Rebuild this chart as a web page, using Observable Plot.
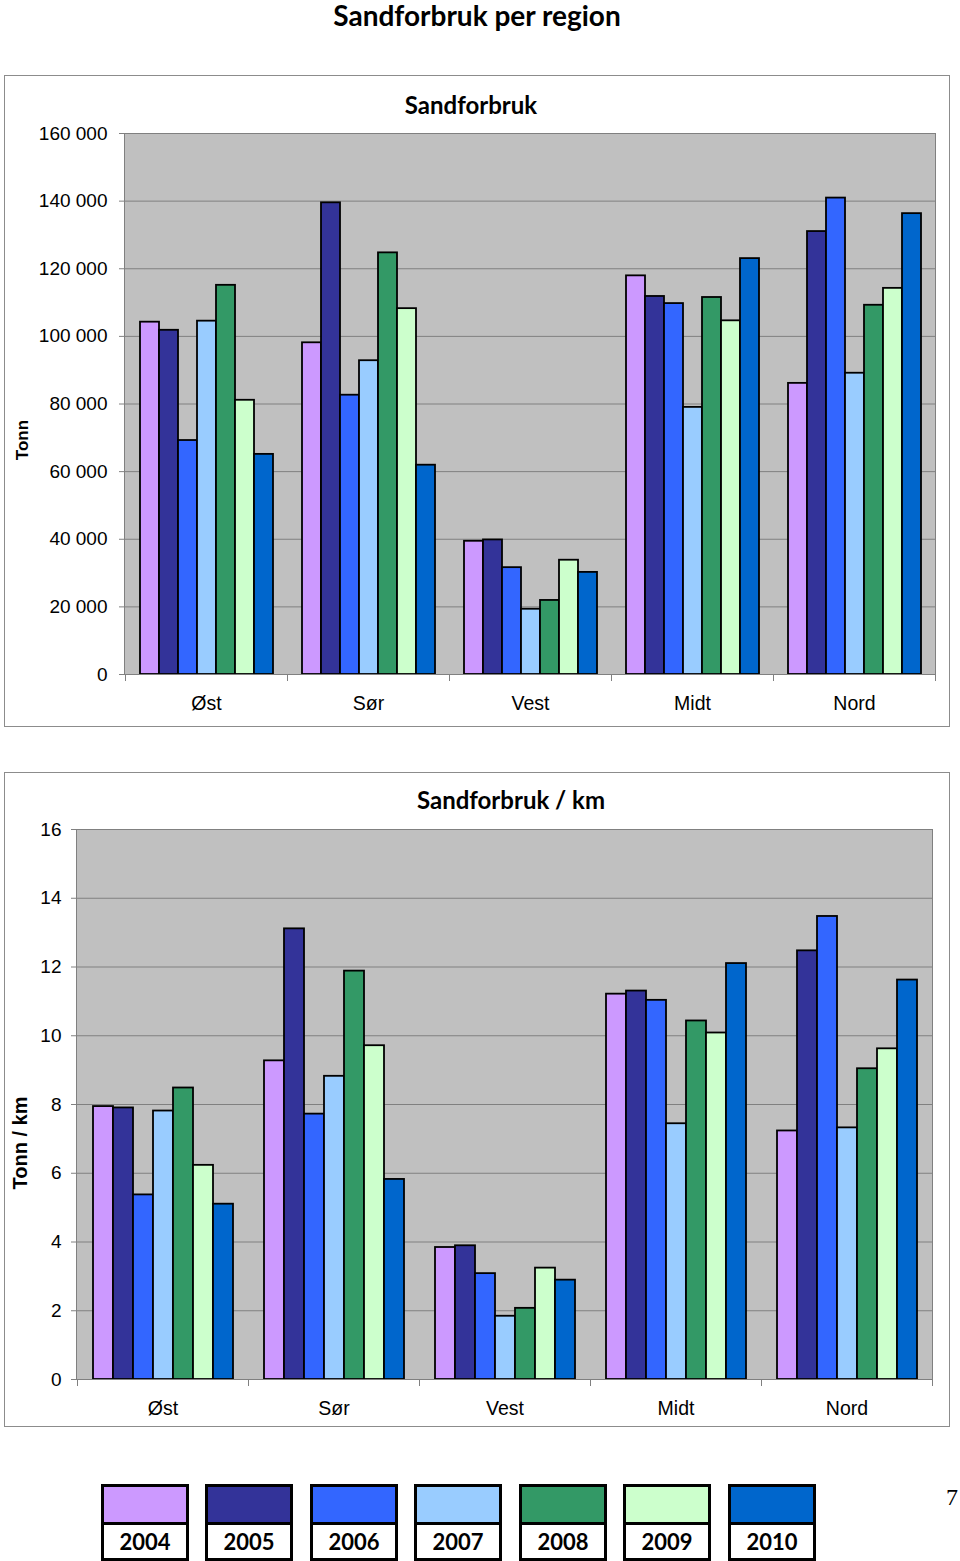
<!DOCTYPE html>
<html><head><meta charset="utf-8">
<script src="https://cdn.jsdelivr.net/npm/d3@7"></script>
<script src="https://cdn.jsdelivr.net/npm/@observablehq/plot@0.6"></script>
<style>
html,body{margin:0;padding:0;background:#fff;}
body{width:960px;height:1561px;position:relative;overflow:hidden;font-family:"Liberation Sans",Arial,sans-serif;}
.abs{position:absolute;}
.panel{position:absolute;border:1px solid #8c8c8c;box-sizing:border-box;background:#fff;}
.plotbg{position:absolute;background:#c0c0c0;border:1px solid #808080;box-sizing:border-box;}
.ttl{position:absolute;font-family:Lato,"Open Sans",sans-serif;font-weight:bold;white-space:nowrap;transform:translate(-50%,-50%);line-height:1;}
.ylab{position:absolute;font-family:"Liberation Sans",Arial,sans-serif;font-weight:bold;white-space:nowrap;transform:translate(-50%,-50%) rotate(-90deg);line-height:1;}
.chart{position:absolute;}
.lg{position:absolute;top:1484px;width:88px;height:77px;border:3px solid #000;box-sizing:border-box;background:#fff;}
.lg .sw{height:35px;border-bottom:3px solid #000;}
.lg .tx{text-align:center;font-family:Lato,"Open Sans",sans-serif;font-weight:bold;font-size:22px;line-height:33px;color:#000;}
</style>
</head><body>
<script>
// ---------- data ----------
const regions = ["Øst", "Sør", "Vest", "Midt", "Nord"];
const years = ["2004", "2005", "2006", "2007", "2008", "2009", "2010"];
const yearColors = ["#CC99FF", "#333399", "#3366FF", "#99CCFF", "#339966", "#CCFFCC", "#0066CC"];

// Sandforbruk (tonn), one value per year 2004–2010
const tonnOst  = [104200, 101800, 69200, 104500, 115100, 81100, 65100];
const tonnSor  = [98100, 139500, 82600, 92800, 124700, 108200, 61900];
const tonnVest = [39400, 39800, 31600, 19300, 21900, 33800, 30200];
const tonnMidt = [117900, 111800, 109700, 79000, 111500, 104600, 123000];
const tonnNord = [86100, 131000, 140900, 89100, 109200, 114200, 136300];

// Sandforbruk / km (tonn per km)
const perKmOst  = [7.94, 7.90, 5.37, 7.81, 8.48, 6.23, 5.10];
const perKmSor  = [9.27, 13.11, 7.72, 8.82, 11.88, 9.71, 5.82];
const perKmVest = [3.84, 3.89, 3.08, 1.84, 2.07, 3.24, 2.89];
const perKmMidt = [11.21, 11.30, 11.03, 7.44, 10.43, 10.08, 12.10];
const perKmNord = [7.23, 12.47, 13.47, 7.32, 9.04, 9.62, 11.62];

const ticksTonn = [0, 20000, 40000, 60000, 80000, 100000, 120000, 140000, 160000];
const ticksPerKm = [0, 2, 4, 6, 8, 10, 12, 14, 16];

const mainTitle = "Sandforbruk per region";
const title1 = "Sandforbruk";
const title2 = "Sandforbruk / km";
const yLabel1 = "Tonn";
const yLabel2 = "Tonn / km";
const pageNumber = "7";

// ---------- build tables ----------
function table(rows) {
  const out = [];
  regions.forEach((r, i) => rows[i].forEach((v, j) => out.push({region: r, year: years[j], value: v})));
  return out;
}
const dataTonn = table([tonnOst, tonnSor, tonnVest, tonnMidt, tonnNord]);
const dataPerKm = table([perKmOst, perKmSor, perKmVest, perKmMidt, perKmNord]);

const fmtSpace = d => d3.format(",")(d).replace(/,/g, " ");

function add(html) { document.body.insertAdjacentHTML("beforeend", html); }

function chart({data, ticks, domainMax, fmt, box, plot, padOuter, tickPad}) {
  add(`<div class="panel" style="left:${box.x}px;top:${box.y}px;width:${box.w}px;height:${box.h}px"></div>`);
  add(`<div class="plotbg" style="left:${box.x + plot.l}px;top:${box.y + plot.t}px;width:${box.w - plot.l - plot.r + 1}px;height:${box.h - plot.t - plot.b + 1}px"></div>`);
  const ih = box.h - plot.t - plot.b;
  const svg = Plot.plot({
    width: box.w, height: box.h,
    marginLeft: plot.l, marginRight: plot.r, marginTop: plot.t, marginBottom: plot.b,
    style: {background: "transparent", fontFamily: "'Liberation Sans', Arial, sans-serif", fontSize: "19px", color: "#000", overflow: "visible"},
    fx: {domain: regions, padding: 0, label: null},
    x: {domain: years, paddingInner: 0, paddingOuter: padOuter, axis: null},
    y: {domain: [0, domainMax], label: null, axis: null},
    color: {domain: years, range: yearColors},
    marks: [
      Plot.ruleY(ticks, {stroke: "#808080", strokeWidth: 1}),
      Plot.barY(data, {fx: "region", x: "year", y: "value", fill: "year", stroke: "#000", strokeWidth: 1.8, inset: 0}),
      Plot.ruleY([0], {stroke: "#808080", strokeWidth: 1.2}),
      Plot.frame({anchor: "left", stroke: "#808080", insetTop: ih, insetBottom: -6}),
      Plot.frame({anchor: "right", stroke: "#808080", insetTop: ih, insetBottom: -6}),
      Plot.axisY({ticks, tickSize: 6, tickPadding: tickPad, tickFormat: fmt, stroke: "#808080", fill: "#000", label: null, fontSize: 19}),
      Plot.axisFx({anchor: "bottom", tickSize: 0, tickPadding: 22, label: null, fill: "#000", fontSize: 19.5})
    ]
  });
  const wrap = document.createElement("div");
  wrap.className = "chart";
  wrap.style.left = box.x + "px";
  wrap.style.top = box.y + "px";
  wrap.appendChild(svg);
  document.body.appendChild(wrap);
}

// main title
add(`<div class="ttl" style="left:477px;top:15px;font-size:28px">${mainTitle}</div>`);

// chart 1
chart({data: dataTonn, ticks: ticksTonn, domainMax: 160000, fmt: fmtSpace,
  box: {x: 4, y: 75, w: 946, h: 652}, plot: {l: 120, r: 15, t: 58, b: 53}, padOuter: 0.73, tickPad: 12});
add(`<div class="ttl" style="left:471px;top:105px;font-size:24px">${title1}</div>`);
add(`<div class="ylab" style="left:22px;top:440px;font-size:17px">${yLabel1}</div>`);

// chart 2
chart({data: dataPerKm, ticks: ticksPerKm, domainMax: 16, fmt: d => String(d),
  box: {x: 4, y: 772, w: 946, h: 655}, plot: {l: 72, r: 18, t: 57, b: 48}, padOuter: 0.75, tickPad: 10});
add(`<div class="ttl" style="left:511px;top:800px;font-size:24px">${title2}</div>`);
add(`<div class="ylab" style="left:20px;top:1143px;font-size:20px">${yLabel2}</div>`);

// legend
const legendLeft = [101, 205, 310, 414, 519, 623, 728];
years.forEach((y, i) => {
  add(`<div class="lg" style="left:${legendLeft[i]}px"><div class="sw" style="background:${yearColors[i]}"></div><div class="tx">${y}</div></div>`);
});
add(`<div class="abs" style="left:946px;top:1485px;font-family:'Liberation Serif',serif;font-size:24px;line-height:1">${pageNumber}</div>`);
</script>
</body></html>
